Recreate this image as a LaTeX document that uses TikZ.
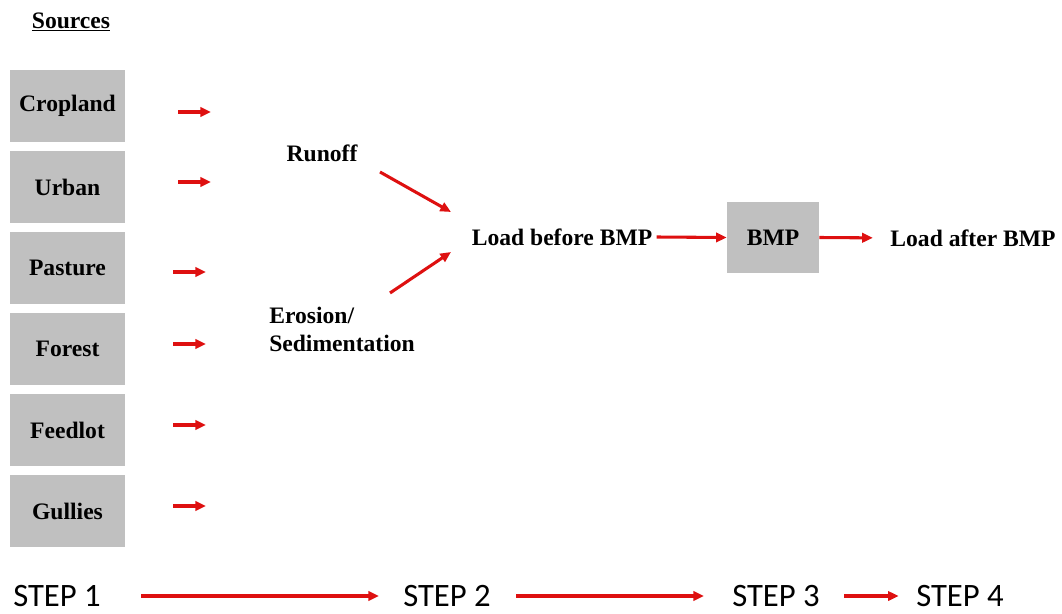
\documentclass[tikz,border=0pt]{standalone}
\usepackage{fontspec}
\setmainfont{Liberation Serif}
\newfontfamily\stepfont{Carlito}
\usetikzlibrary{arrows.meta}
\definecolor{boxgray}{RGB}{192,192,192}
\definecolor{arrred}{RGB}{222,16,16}
\begin{document}
\begin{tikzpicture}[x=0.75pt,y=-0.75pt,
  src/.style={fill=boxgray, minimum width=86.25pt, minimum height=54pt, inner sep=0pt,
              font=\fontsize{17.7}{20}\selectfont\bfseries},
  lbl/.style={font=\fontsize{17.7}{21}\selectfont\bfseries, inner sep=0pt},
  steplbl/.style={font=\stepfont\fontsize{24.5}{26}\selectfont, inner sep=0pt},
  arr/.style={draw=arrred, line width=2.3pt, -{Triangle[length=8pt,width=7pt]}},
]
\useasboundingbox (0,0) rectangle (1062,613);

% header
\node[lbl] (sources) at (71,22) {\underline{Sources}};

% source boxes
\node[src] (crop)  at (67.5,106) {Cropland};
\node[src] (urban) at (67.5,187) {Urban};
\node[src] (past)  at (67.5,268) {Pasture};
\node[src] (forest) at (67.5,349) {Forest};
\node[src] (feed)  at (67.5,430) {Feedlot};
\node[src] (gully) at (67.5,511) {Gullies};

% small arrows
\coordinate (a1s) at (178,112); \coordinate (a1e) at (211,112);
\coordinate (a2s) at (178,182); \coordinate (a2e) at (211,182);
\coordinate (a3s) at (173,272); \coordinate (a3e) at (206,272);
\coordinate (a4s) at (173,344); \coordinate (a4e) at (206,344);
\coordinate (a5s) at (173,425); \coordinate (a5e) at (206,425);
\coordinate (a6s) at (173,506); \coordinate (a6e) at (206,506);
\foreach \i in {1,...,6} \draw[arr] (a\i s) -- (a\i e);

% middle
\node[lbl] (runoff) at (322,153) {Runoff};
\node[lbl, anchor=west, align=left] (erosion) at (269,329) {Erosion/\\Sedimentation};
\coordinate (r1) at (380,172); \coordinate (r2) at (451,212);
\coordinate (e1) at (390,293); \coordinate (e2) at (451,252);
\draw[arr] (r1) -- (r2);
\draw[arr] (e1) -- (e2);

\node[lbl] (lb) at (562,237) {Load before BMP};
\node[src, minimum width=69pt, minimum height=53.25pt] (bmp) at (773,237.5) {BMP};
\node[lbl] (la) at (973,238) {Load after BMP};
\draw[arr] (lb.east) ++(3pt,0) -- (bmp.west);
\draw[arr, shorten >=13pt] (bmp.east) -- (la.west);

% steps
\node[steplbl] (s1) at (57,596) {STEP 1};
\node[steplbl] (s2) at (447,596) {STEP 2};
\node[steplbl] (s3) at (776,596) {STEP 3};
\node[steplbl] (s4) at (960,596) {STEP 4};
\draw[arr, shorten <=30pt, shorten >=18pt] (s1.east) -- (s2.west);
\draw[arr, shorten <=19pt, shorten >=21pt] (s2.east) -- (s3.west);
\draw[arr, shorten <=18pt, shorten >=13pt] (s3.east) -- (s4.west);
\end{tikzpicture}
\end{document}
